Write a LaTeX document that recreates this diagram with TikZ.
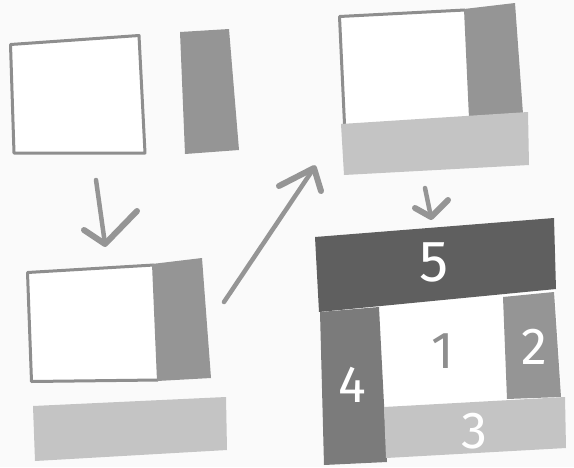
\documentclass[tikz,border=0pt]{standalone}
\usepackage{fontspec}
\setmainfont{Fira Sans}
\definecolor{paper}{HTML}{FAFAFA}
\definecolor{edgegray}{HTML}{8E8E8E}
\definecolor{midgray}{HTML}{959595}
\definecolor{lightgray}{HTML}{C4C4C4}
\definecolor{darkgray}{HTML}{5F5F5F}
\definecolor{sidegray}{HTML}{7B7B7B}
\begin{document}
\begin{tikzpicture}[x=1pt,y=-1pt,
    frame/.style={draw=edgegray,line width=3pt,fill=white,line join=round},
    midbar/.style={fill=midgray},
    lightbar/.style={fill=lightgray},
    darkbar/.style={fill=darkgray},
    sidebar/.style={fill=sidegray},
    stem/.style={draw=midgray,line width=4.5pt,line cap=round},
    arm/.style={draw=midgray,line width=6pt,line cap=round,line join=round},
    lbl/.style={text=white,font=\fontsize{52}{52}\selectfont,inner sep=0pt}
]
    \fill[paper] (0,0) rectangle (574,467);
    \useasboundingbox (0,0) rectangle (574,467);

    % start: box and bar apart
    \draw[frame] (10.5,44.5) -- (139,35.5) -- (145,153) -- (14,153) -- cycle;
    \fill[midbar] (180,32) -- (229,29) -- (239,150) -- (185,154) -- cycle;

    % first step
    \fill[white] (28,272) -- (153,265) -- (157,381) -- (31,382) -- cycle;
    \draw[edgegray,line width=3pt,line join=round]
        (154,265) -- (27.5,272.5) -- (31.5,381.5) -- (158,380);
    \fill[midbar] (152,264) -- (202,258) -- (211,378) -- (157,381) -- cycle;
    \fill[lightbar] (33,406) -- (226,397) -- (227,450) -- (35,461) -- cycle;

    % second step
    \fill[white] (339,16) -- (464,10) -- (469,118) -- (345,124) -- cycle;
    \draw[edgegray,line width=3pt,line join=round]
        (465,10) -- (339.5,16.5) -- (344.5,124);
    \fill[midbar] (464,9) -- (515,3) -- (523,114) -- (469,118) -- cycle;
    \fill[lightbar] (341,124) -- (528,112) -- (529,165) -- (344,175) -- cycle;

    % result
    \fill[white] (320,305) -- (555,290) -- (562,405) -- (326,412) -- cycle;
    \fill[darkbar] (315,237) -- (554,218) -- (556,289) -- (319,312) -- cycle;
    \fill[sidebar] (320,312) -- (379,307) -- (387,462) -- (324,465) -- cycle;
    \fill[midbar] (503,297) -- (554,292) -- (561,397) -- (507,399) -- cycle;
    \fill[lightbar] (384,407) -- (565,397) -- (566,448) -- (386,458) -- cycle;

    \node[lbl,font=\fontsize{58}{58}\selectfont] (n5) at (434,262) {5};
    \node[lbl] (n4) at (352,385) {4};
    \node[lbl] (n2) at (534,347) {2};
    \node[lbl] (n3) at (474,431) {3};
    \node[lbl,text=edgegray] (n1) at (443,351) {1};

    % arrows
    \coordinate (a1s) at (96,180);
    \coordinate (a1t) at (105,244);
    \coordinate (a2s) at (224,302);
    \coordinate (a2t) at (314,168);
    \coordinate (a3s) at (425,188);
    \coordinate (a3t) at (431,217);

    \draw[stem] (a1s) -- (a1t);
    \draw[arm] (84,230) -- (a1t) -- (137,211);
    \draw[stem] (a2s) -- (a2t);
    \draw[arm] (279,186) -- (a2t) -- (321,191);
    \draw[stem] (a3s) -- (a3t);
    \draw[arm] (415,208) -- (a3t) -- (448,200);
\end{tikzpicture}
\end{document}
